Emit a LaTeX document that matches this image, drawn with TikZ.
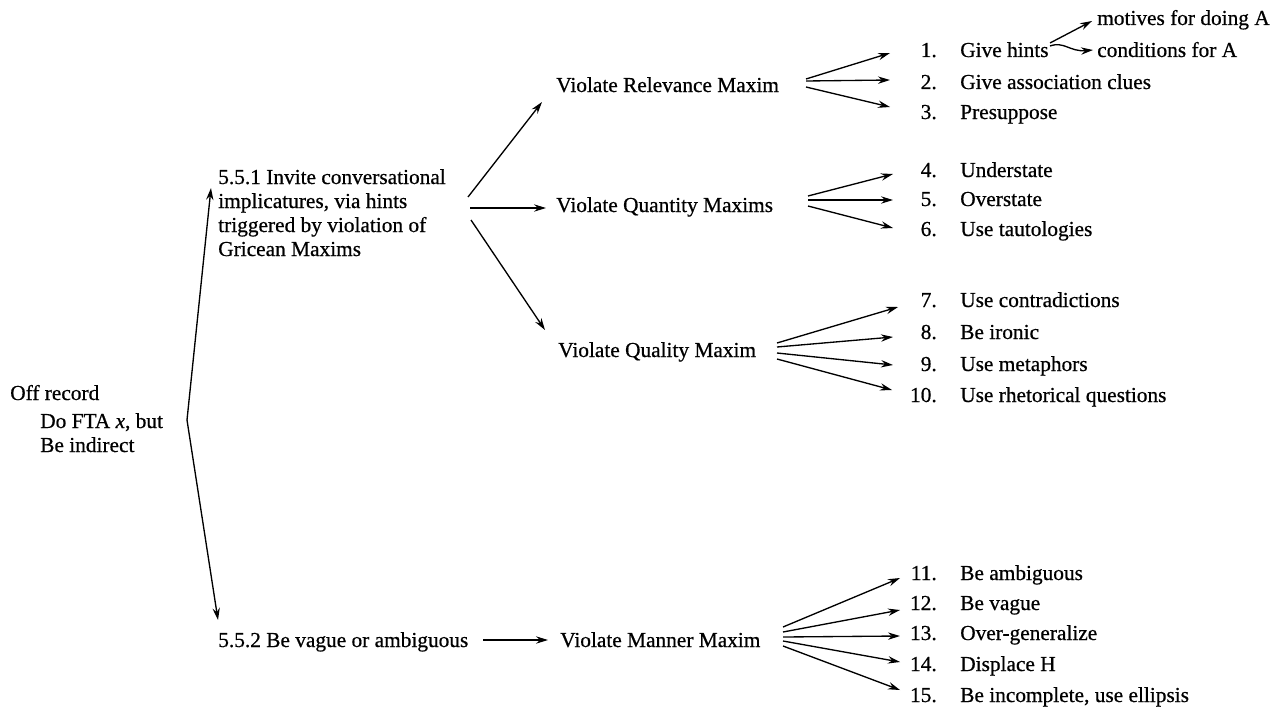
\documentclass[tikz,border=0pt]{standalone}
\usepackage{fontspec}
\setmainfont{Liberation Serif}[RawFeature={embolden=0.6}]
\usetikzlibrary{arrows.meta}
\begin{document}
\begin{tikzpicture}[x=0.75pt,y=-0.75pt,
  txt/.style={anchor=base west,inner sep=0pt,font=\fontsize{16}{19}\selectfont},
  num/.style={anchor=base east,inner sep=0pt,font=\fontsize{16}{19}\selectfont},
  arr/.style={-{Stealth[length=9pt,width=5.5pt,inset=3pt]},line width=1pt}]
\useasboundingbox (0,0) rectangle (1276,710);
% root
\node[txt] (off1) at (10,400) {Off record};
\node[txt] (off2) at (40,428) {Do FTA \textit{x}, but};
\node[txt] (off3) at (40,452) {Be indirect};
\coordinate (v) at (187,420);
% 5.5.1
\node[txt] (a1) at (218,184) {5.5.1 Invite conversational};
\node[txt] (a2) at (218,208) {implicatures, via hints};
\node[txt] (a3) at (218,232) {triggered by violation of};
\node[txt] (a4) at (218,256) {Gricean Maxims};
% 5.5.2
\node[txt] (b1) at (218,647) {5.5.2 Be vague or ambiguous};
% level 2
\node[txt] (rel) at (556,92) {Violate Relevance Maxim};
\node[txt] (qty) at (556,212) {Violate Quantity Maxims};
\node[txt] (qual) at (558,357) {Violate Quality Maxim};
\node[txt] (man) at (560,647) {Violate Manner Maxim};
% root arrows
\coordinate (upt) at (211,188);
\coordinate (dnt) at (218,620);
\draw[arr] (v) -- (upt);
\draw[arr] (v) -- (dnt);
% 5.5.1 arrows
\coordinate (s1) at (468,197); \coordinate (t1) at (542,102);
\coordinate (s2) at (470,208); \coordinate (t2) at (546,208);
\coordinate (s3) at (471,220); \coordinate (t3) at (545,330);
\draw[arr] (s1) -- (t1);
\draw[arr] (s2) -- (t2);
\draw[arr] (s3) -- (t3);
\coordinate (s4) at (483,640); \coordinate (t4) at (548,640);
\draw[arr] (s4) -- (t4);
% relevance items
\node[num] (n1) at (937,57) {1.};
\node[txt] (i1) at (960,57) {Give hints};
\node[num] (n2) at (937,89) {2.};
\node[txt] (i2) at (960,89) {Give association clues};
\node[num] (n3) at (937,119) {3.};
\node[txt] (i3) at (960,119) {Presuppose};
\node[txt] (m1) at (1097,25) {motives for doing A};
\node[txt] (m2) at (1097,57) {conditions for A};
\coordinate (h0) at (1050,43); \coordinate (h1) at (1092,21);
\coordinate (h2) at (1050,46); \coordinate (h3) at (1093,50);
\draw[arr] (h0) -- (h1);
\draw[arr] (h2) .. controls (1064,41) and (1070,52) .. (h3);
\foreach \a/\b in {79/53,81/80,87/107}{\draw[arr] (806,\a) -- (890,\b);}
% quantity items
\node[num] (n4) at (937,177) {4.};
\node[txt] (i4) at (960,177) {Understate};
\node[num] (n5) at (937,206) {5.};
\node[txt] (i5) at (960,206) {Overstate};
\node[num] (n6) at (937,236) {6.};
\node[txt] (i6) at (960,236) {Use tautologies};
\foreach \a/\b in {196/174,200/200,206/228}{\draw[arr] (808,\a) -- (893,\b);}
% quality items
\node[num] (n7) at (937,307) {7.};
\node[txt] (i7) at (960,307) {Use contradictions};
\node[num] (n8) at (937,339) {8.};
\node[txt] (i8) at (960,339) {Be ironic};
\node[num] (n9) at (937,371) {9.};
\node[txt] (i9) at (960,371) {Use metaphors};
\node[num] (n10) at (937,402) {10.};
\node[txt] (i10) at (960,402) {Use rhetorical questions};
\foreach \a/\b/\c in {343/898/307,347/893/337,353/893/365,359/892/390}{\draw[arr] (777,\a) -- (\b,\c);}
% manner items
\node[num] (n11) at (937,580) {11.};
\node[txt] (i11) at (960,580) {Be ambiguous};
\node[num] (n12) at (937,610) {12.};
\node[txt] (i12) at (960,610) {Be vague};
\node[num] (n13) at (937,640) {13.};
\node[txt] (i13) at (960,640) {Over-generalize};
\node[num] (n14) at (937,671) {14.};
\node[txt] (i14) at (960,671) {Displace H};
\node[num] (n15) at (937,702) {15.};
\node[txt] (i15) at (960,702) {Be incomplete, use ellipsis};
\foreach \a/\b in {627/578,632/610,637/636,641/662,646/690}{\draw[arr] (783,\a) -- (900,\b);}
\end{tikzpicture}
\end{document}
